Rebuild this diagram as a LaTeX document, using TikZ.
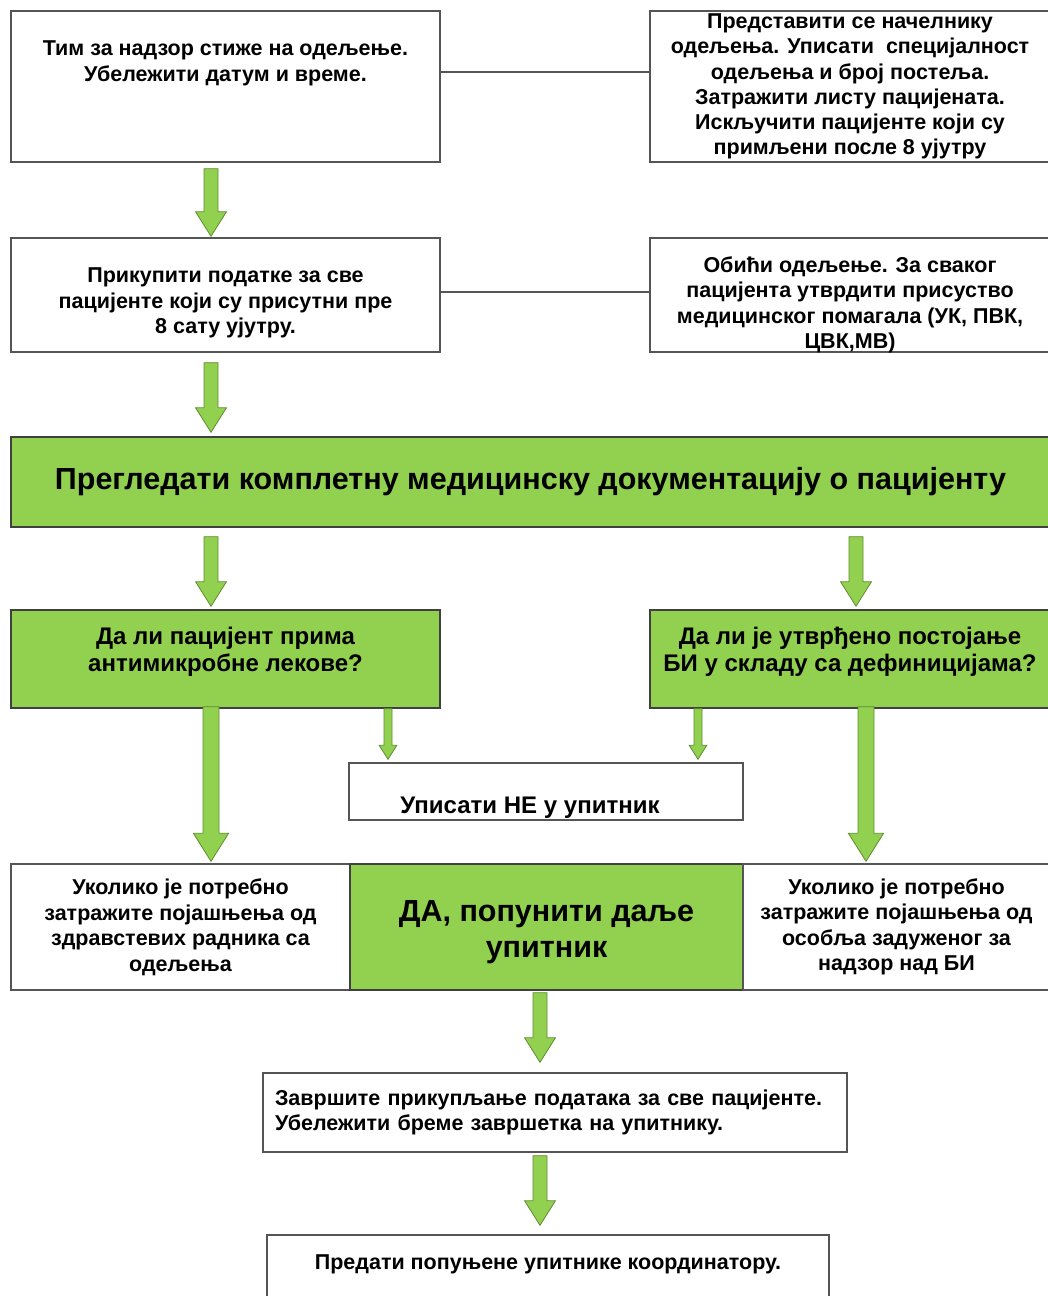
\documentclass[tikz,border=0pt]{standalone}
\usepackage{fontspec}
\setmainfont{Liberation Sans}
\usetikzlibrary{calc}

\definecolor{boxgreen}{HTML}{92D050}
\definecolor{edgegreen}{HTML}{5E8C2E}
\definecolor{boxgray}{HTML}{555555}

% block arrow: #1 half shaft width, #2 start, #3 tip
\newcommand{\garrow}[3][7]{%
  \draw[arrow_style] ($(#2)+(-#1,0)$) -- ($(#3)+(-#1,-3.5*#1)$) -- ($(#3)+(-2.2*#1,-3.5*#1)$)
    -- (#3) -- ($(#3)+(2.2*#1,-3.5*#1)$) -- ($(#3)+(#1,-3.5*#1)$) -- ($(#2)+(#1,0)$) -- cycle;}

\begin{document}
\begin{tikzpicture}[x=1pt, y=-1pt,
			box_style/.style={rectangle,draw=boxgray,line width=1.4pt,fill=white,align=center,inner sep=2pt,font=\fontsize{21.5}{25.5}\selectfont\bfseries},
			green_style/.style={box_style,fill=boxgreen,draw=black!75},
			text_style/.style={align=center,font=\fontsize{21.5}{25.5}\selectfont\bfseries},
			question_style/.style={align=center,font=\fontsize{24}{27}\selectfont\bfseries},
			arrow_style/.style={fill=boxgreen,draw=edgegreen,line width=0.8pt},
			edge_style/.style={draw=boxgray,line width=1.4pt}]
			\useasboundingbox (0,0) rectangle (1047,1296);
			\node[box_style, minimum width=429pt, minimum height=151pt] (b1) at (225.5,86.5) {Тим за надзор стиже на одељење.\\ Убележити датум и време.\\ \mbox{}\\ \mbox{}};
			\node[box_style, minimum width=400pt, minimum height=151pt, font=\fontsize{21.5}{25.2}\selectfont\bfseries] (b2) at (850,86.5) {Представити се начелнику\\ одељења. Уписати\ \ специјалност\\ одељења и број постеља.\\ Затражити листу пацијената.\\ Искључити пацијенте који су\\ примљени после 8 ујутру};
			\node[box_style, minimum width=429pt, minimum height=114pt,
				label={[text_style, yshift=-8pt]center:{Прикупити податке за све\\ пацијенте који су присутни пре\\ 8 сату ујутру.}}] (b3) at (225.5,295) {};
			\node[box_style, minimum width=400pt, minimum height=114pt,
				label={[text_style, yshift=-10pt]center:{Обићи одељење. За сваког\\ пацијента утврдити присуство\\ медицинског помагала (УК, ПВК,\\ ЦВК,МВ)}}] (b4) at (850,295) {};
			\node[green_style, minimum width=1039pt, minimum height=90pt, font=\fontsize{30.5}{34}\selectfont\bfseries] (big) at (530.5,482) {Прегледати комплетну медицинску документацију о пацијенту};
			\node[green_style, minimum width=429pt, minimum height=98pt,
				label={[question_style, yshift=7pt]center:{Да ли пацијент прима\\ антимикробне лекове?}}] (q1) at (225.5,659) {};
			\node[green_style, minimum width=400pt, minimum height=98pt,
				label={[question_style, yshift=7pt]center:{Да ли је утврђено постојање\\ БИ у складу са дефиницијама?}}] (q2) at (850,659) {};
			\node[box_style, minimum width=394pt, minimum height=57pt,
				label={[question_style, xshift=-16pt, yshift=-16pt]center:Уписати НЕ у упитник}] (ne) at (546,791.5) {};
			\node[box_style, minimum width=339pt, minimum height=126pt] (r1) at (180.5,927) {Уколико је потребно\\ затражите појашњења од\\ здравстевих радника са\\ одељења};
			\node[green_style, minimum width=393pt, minimum height=126pt,
				label={[align=center, font=\fontsize{30.5}{36}\selectfont\bfseries, yshift=-5pt]center:{ДА, попунити даље\\ упитник}}] (mid) at (546.5,927) {};
			\node[box_style, minimum width=307pt, minimum height=126pt] (r3) at (896.5,927) {Уколико је потребно\\ затражите појашњења од\\ особља задуженог за\\ надзор над БИ};
			\node[box_style, minimum height=79pt, text width=560pt, inner sep=12pt, align=left] (e1) at (555,1112.5) {Завршите прикупљање података за све пацијенте.\\ Убележити бреме завршетка на упитнику.};
			\node[box_style, minimum width=562pt, minimum height=80pt] (e2) at (548,1275) {Предати попуњене упитнике координатору.\\ \mbox{}};
			\draw[edge_style] ([yshift=14.5pt]b1.east) -- ([yshift=14.5pt]b2.west);
			\draw[edge_style] ([yshift=3pt]b3.east) -- ([yshift=3pt]b4.west);
			\garrow{[xshift=-14.5pt,yshift=-6pt]b1.south}{[xshift=-14.5pt,yshift=1pt]b3.north}
			\garrow{[xshift=-14.5pt,yshift=-10pt]b3.south}{[xshift=-319.5pt,yshift=4pt]big.north}
			\garrow{[xshift=-319.5pt,yshift=-9pt]big.south}{[xshift=-14.5pt,yshift=3pt]q1.north}
			\garrow{[xshift=325.5pt,yshift=-9pt]big.south}{[xshift=6pt,yshift=3pt]q2.north}
			\garrow[4]{[xshift=162.5pt]q1.south}{[xshift=-158pt,yshift=3pt]ne.north}
			\garrow[4]{[xshift=-152pt]q2.south}{[xshift=152pt,yshift=3pt]ne.north}
			\garrow[8]{[xshift=-14.5pt,yshift=2pt]q1.south}{[xshift=30.5pt,yshift=2pt]r1.north}
			\garrow[8]{[xshift=16pt,yshift=2pt]q2.south}{[xshift=-30.5pt,yshift=2pt]r3.north}
			\garrow{[xshift=-6.5pt,yshift=-2pt]mid.south}{[xshift=-15pt,yshift=10pt]e1.north}
			\garrow{[xshift=-15pt,yshift=-3pt]e1.south}{[xshift=-8pt,yshift=9pt]e2.north}
			\end{tikzpicture}
\end{document}
